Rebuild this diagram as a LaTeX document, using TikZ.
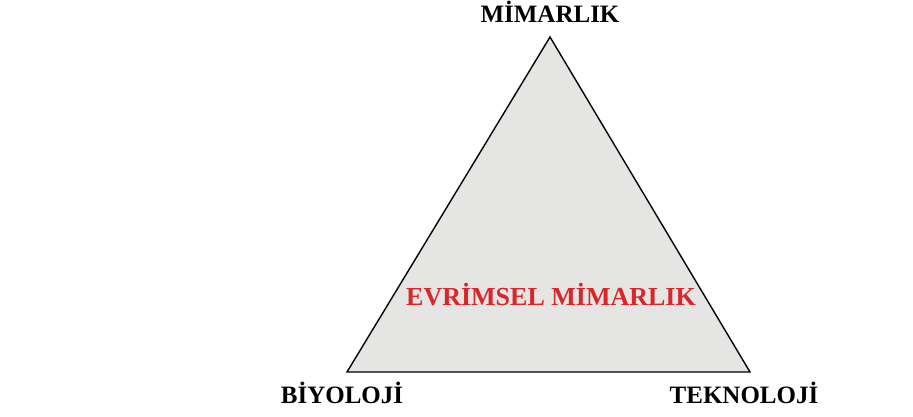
\documentclass[tikz,border=0pt]{standalone}
\usepackage{fontspec}
\setmainfont{Liberation Serif}
\definecolor{trifill}{RGB}{229,229,227}
\definecolor{evred}{RGB}{218,38,42}
\begin{document}
\begin{tikzpicture}[x=1pt,y=1pt,
  lbl/.style={inner sep=0pt,anchor=base,font=\fontsize{25}{30}\selectfont\bfseries},
  tri/.style={draw=black,line width=1.4pt,fill=trifill,line join=miter}]
\useasboundingbox (0,0) rectangle (913,416);
\coordinate (apex) at (550,379);
\coordinate (bl) at (347,44);
\coordinate (br) at (750,44);
\draw[tri] (apex) -- (bl) -- (br) -- cycle;
\node[lbl] (mim) at (550,393) {MİMARLIK};
\node[lbl] (biy) at (342,13) {BİYOLOJİ};
\node[lbl] (tek) at (744,13) {TEKNOLOJİ};
\node[lbl,text=evred,font=\fontsize{26}{31}\selectfont\bfseries] (evr) at (551,111) {EVRİMSEL MİMARLIK};
\end{tikzpicture}
\end{document}
